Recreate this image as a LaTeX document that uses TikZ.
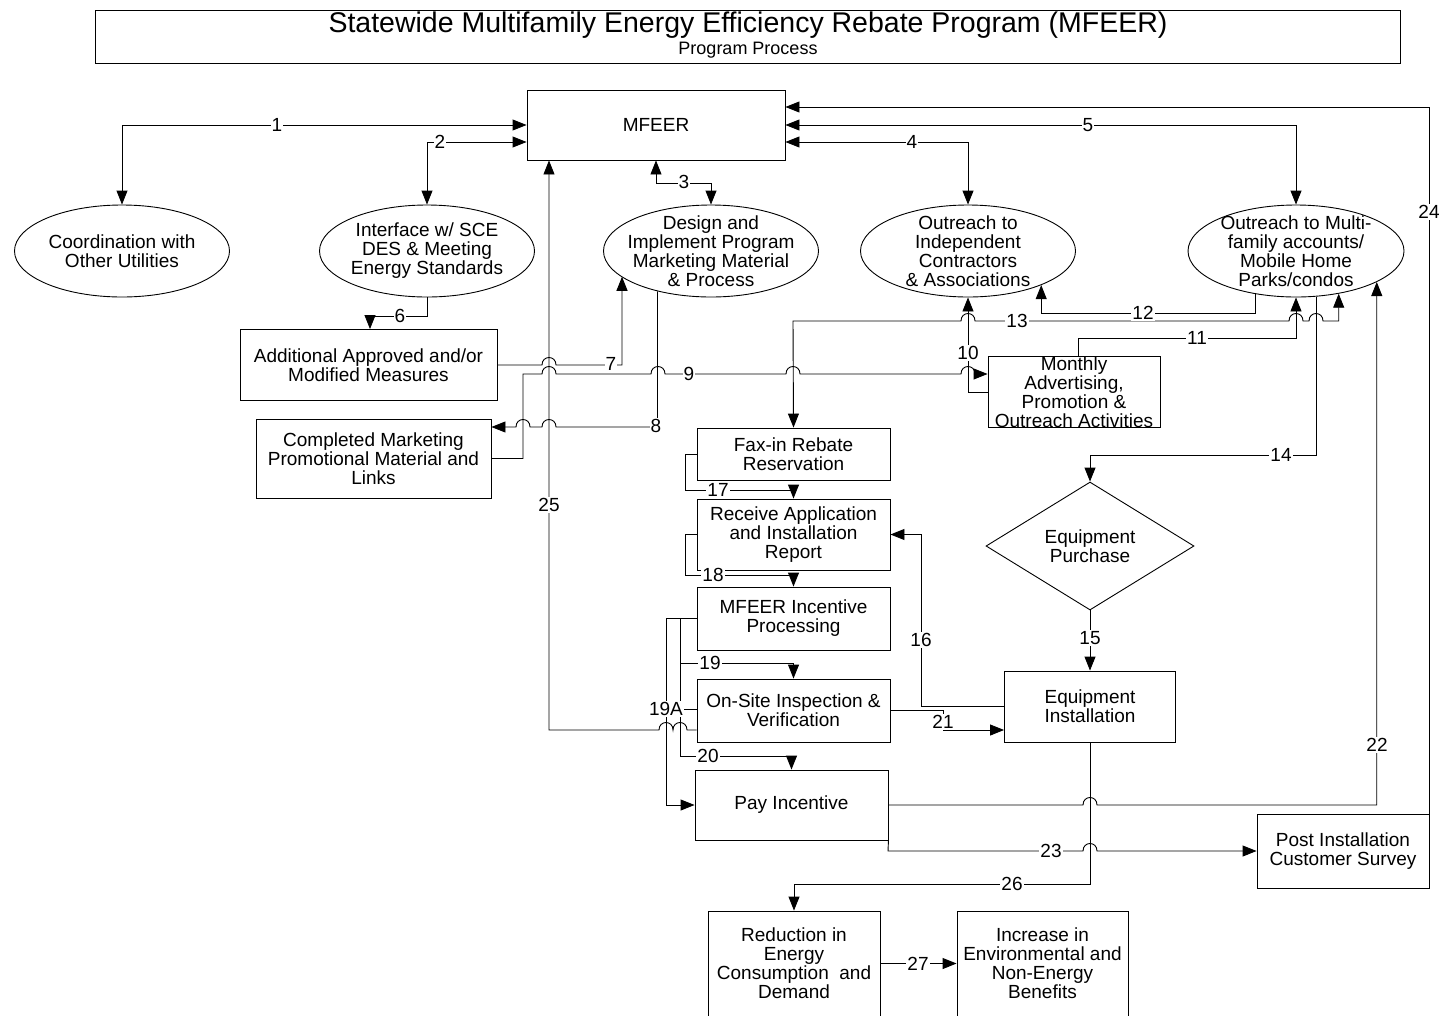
\documentclass[tikz,border=0pt]{standalone}
\usepackage{fontspec}
\setmainfont{Liberation Sans}
\usetikzlibrary{arrows.meta,shapes.geometric}

\newcommand{\bodyfont}{\fontsize{19}{19}\selectfont}
%% small hump where a wire crosses another one
\newcommand{\hopr}[2]{-- (#1-7,#2) .. controls (#1-7,#2-10) and (#1+7,#2-10) .. (#1+7,#2)}
\newcommand{\hopl}[2]{-- (#1+7,#2) .. controls (#1+7,#2-10) and (#1-7,#2-10) .. (#1-7,#2)}

\tikzset{
  box/.style={draw,align=center,inner sep=0pt},
  oval/.style={draw,ellipse,minimum width=215pt,minimum height=92pt,inner sep=0pt},
  num/.style={fill=white,inner sep=1pt},
  arr/.style={-{Triangle[length=14pt,width=11pt]}},
  dbl/.style={{Triangle[length=14pt,width=11pt]}-{Triangle[length=14pt,width=11pt]}},
}

\begin{document}
\begin{tikzpicture}[x=1pt,y=-1pt,line width=0.9pt,font=\bodyfont]
        \useasboundingbox (0,0) rectangle (1439,1015);
        %% Title
        \node[draw,minimum width=1305pt,minimum height=53pt] (title) at (747.5,36.5) {};
        \node[font=\fontsize{28.5}{29}\selectfont] (titletxt) at (748,25) {Statewide Multifamily Energy Efficiency Rebate Program (MFEER)};
        \node[font=\fontsize{18}{19}\selectfont] (subtxt) at (748,50) {Program Process};
        %% Top row
        \node[box,minimum width=258pt,minimum height=70pt] (mfeer) at (656,125) {MFEER};
        \node[oval,label={[align=center]center:Coordination with\\Other Utilities}] (coord) at (122,251) {};
        \node[oval,label={[align=center]center:Interface w/ SCE\\DES \& Meeting\\Energy Standards}] (iface) at (427,251) {};
        \node[oval,label={[align=center]center:Design and\\Implement Program\\Marketing Material\\\& Process}] (design) at (711,251) {};
        \node[oval,label={[align=center]center:Outreach to\\Independent\\Contractors\\\& Associations}] (outind) at (968,251) {};
        \node[oval,minimum width=216pt,label={[align=center]center:Outreach to Multi-\\family accounts/\\Mobile Home\\Parks/condos}] (outmulti) at (1296,251) {};
        %% Boxes
        \node[box,minimum width=257pt,minimum height=71pt] (addl) at (368.5,365) {Additional Approved and/or\\Modified Measures};
        \node[box,minimum width=235pt,minimum height=79pt] (compl) at (373.5,458.5) {Completed Marketing\\Promotional Material and\\Links};
        \node[box,minimum width=172pt,minimum height=70pt] (monthly) at (1074,392) {Monthly\\Advertising,\\Promotion \&\\Outreach Activities};
        \node[box,minimum width=193pt,minimum height=52pt] (fax) at (793.5,454) {Fax-in Rebate\\Reservation};
        \node[box,minimum width=193pt,minimum height=71pt] (recv) at (793.5,534.5) {Receive Application\\and Installation\\Report};
        \node[box,minimum width=193pt,minimum height=63pt] (incent) at (793.5,618.5) {MFEER Incentive\\Processing};
        \node[box,minimum width=193pt,minimum height=63pt] (onsite) at (793.5,710.5) {On-Site Inspection \&\\Verification};
        \node[box,minimum width=193pt,minimum height=70pt] (pay) at (791.5,805) {Pay Incentive};
        \node[draw,diamond,aspect=1.6,minimum width=208pt,minimum height=128pt,inner sep=0pt,align=center] (purch) at (1090,546) {Equipment\\Purchase};
        \node[box,minimum width=171pt,minimum height=71pt] (install) at (1090,706.5) {Equipment\\Installation};
        \node[box,minimum width=172pt,minimum height=74pt] (survey) at (1343,851) {Post Installation\\Customer Survey};
        \node[box,minimum width=172pt,minimum height=105pt] (reduce) at (794,963.5) {Reduction in\\Energy\\Consumption~ and\\Demand};
        \node[box,minimum width=171pt,minimum height=105pt] (increase) at (1042.5,963.5) {Increase in\\Environmental and\\Non-Energy\\Benefits};
        %% Links to MFEER
        \draw[dbl] (coord.north) |- (mfeer.west |- 0,125);
        \draw[dbl] (iface.north) |- (mfeer.west |- 0,142);
        \draw[dbl] (mfeer.south) -- (656,183) -| (design.north);
        \draw[dbl] (mfeer.east |- 0,142) -| (outind.north);
        \draw[dbl] (mfeer.east |- 0,125) -| (outmulti.north);
        \draw[arr] (survey.north east) |- (mfeer.east |- 0,107);
        %% Marketing wires
        \draw[arr] (iface.south) -- (427,316) -| (addl.north -| 370,0);
        \draw[arr] (addl.east) \hopr{549}{365} -- (622,365) -- (design.196 -| 622,0);
        \draw[arr] (design.217) -- (design.217 |- 0,427) \hopl{549}{427} \hopl{523}{427} -- (compl.east |- 0,427);
        \draw[arr] (compl.east) -- (523,458.5) -- (523,374) \hopr{549}{374} \hopr{658}{374} \hopr{793}{374} \hopr{968}{374} -- (monthly.west |- 0,374);
        \draw[arr] (monthly.west) -- (968,392) -- (outind.south);
        \draw[arr] (monthly.north -| 1078,0) -- (1078,338) -| (outmulti.south);
        \draw[arr] (outmulti.227) -- (outmulti.227 |- 0,313) -| (outind.335);
        \draw[dbl] (fax.north) -- (793,321) \hopr{968}{321} \hopr{1296}{321} \hopr{1316}{321} -| (outmulti.315);
        \draw[arr] (outmulti.294) -- (outmulti.294 |- 0,455) -| (purch.north);
        \draw[arr] (purch.south) -- (install.north);
        %% Rebate chain
        \draw[arr] (install.west) -- (921,706.5) |- (recv.east);
        \draw[arr] (fax.west) -- (685,454) -- (685,490) -| (recv.north);
        \draw[arr] (recv.west) -- (685,534.5) -- (685,575) -| (incent.north);
        \draw[arr] (incent.west) -- (680,618.5) -- (680,663) -| (onsite.north);
        \draw[arr] (incent.west) -- (680,618.5) -- (680,756) -| (pay.north);
        \draw[arr] (incent.west) -- (666,618.5) -- (666,805) -- (pay.west);
        \draw[arr] (onsite.east) -- (943,710.5) -- (943,730) -- (install.west |- 0,730);
        \draw[arr] (pay.east) \hopr{1090}{805} -| (outmulti.339);
        \draw[arr] (pay.south east) -- (888,851) \hopr{1090}{851} -- (survey.west);
        \draw[arr] (onsite.west |- 0,730) \hopl{680}{730} \hopl{666}{730} -- (549,730) -- (mfeer.south -| 549,0);
        \draw[arr] (install.south) -- (1090,884) -| (reduce.north);
        \draw[arr] (reduce.east) -- (increase.west);
        %% Numbers
        \node[num] (n1) at (277,125) {1};
        \node[num] (n2) at (440,142) {2};
        \node[num] (n3) at (684,182) {3};
        \node[num] (n4) at (912,142) {4};
        \node[num] (n5) at (1088,125) {5};
        \node[num] (n6) at (400,316) {6};
        \node[num] (n7) at (611,364) {7};
        \node[num] (n8) at (656,426) {8};
        \node[num] (n9) at (689,374) {9};
        \node[num] (n10) at (968,353) {10};
        \node[num] (n11) at (1197,338) {11};
        \node[num] (n12) at (1143,313) {12};
        \node[num] (n13) at (1017,321) {13};
        \node[num] (n14) at (1281,455) {14};
        \node[num] (n15) at (1090,638) {15};
        \node[num] (n16) at (921,640) {16};
        \node[num] (n17) at (718,490) {17};
        \node[num] (n18) at (713,575) {18};
        \node[num] (n19) at (710,663) {19};
        \node[num] (n19A) at (666,709) {19A};
        \node[num] (n20) at (708,756) {20};
        \node[num] (n21) at (943,722) {21};
        \node[num] (n22) at (1377,745) {22};
        \node[num] (n23) at (1051,851) {23};
        \node[num] (n24) at (1429,212) {24};
        \node[num] (n25) at (549,505) {25};
        \node[num] (n26) at (1012,884) {26};
        \node[num] (n27) at (918,964) {27};
        \draw (n19A.east) -- (onsite.west |- n19A.east);
    \end{tikzpicture}
\end{document}
